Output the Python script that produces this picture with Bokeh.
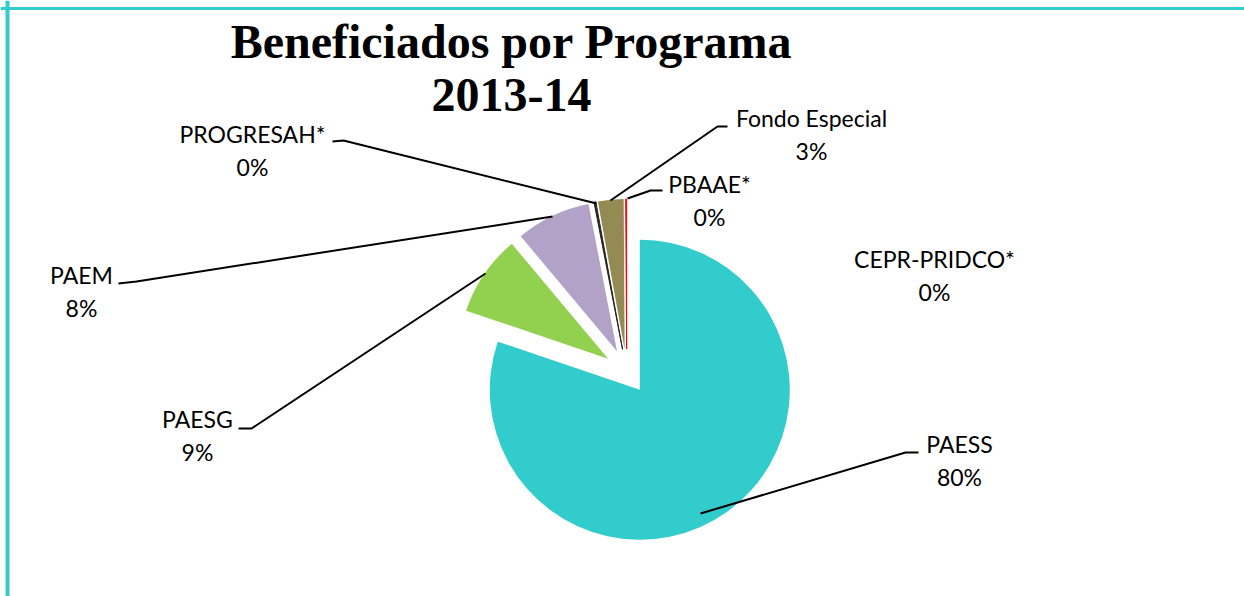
import numpy as np
from bokeh.plotting import figure
from bokeh.models import Range1d, ColumnDataSource, Span
from bokeh.core.properties import value
from bokeh.embed import file_html
from bokeh.resources import INLINE

# ---- data ----
programas = ["PAESS", "PAESG", "PAEM", "PROGRESAH*", "Fondo Especial", "PBAAE*", "CEPR-PRIDCO*"]
porcentaje = [80.2, 8.7, 8.05, 0.2, 2.75, 0.1, 0.0]
colores = ["#33CCCC", "#92D050", "#B3A2C7", "#262626", "#948A54", "#FF0000", "#4BACC6"]

titulo = ["Beneficiados por Programa", "2013-14"]

W, H = 1244, 596
def X(px):
    return px
def Y(py):
    return H - py

p = figure(width=W, height=H, output_backend="svg", toolbar_location=None,
           x_range=Range1d(0, W), y_range=Range1d(0, H), min_border=0)
p.axis.visible = False
p.grid.visible = False
p.outline_line_color = None
p.background_fill_color = "white"

# pie layout
CX, CY = X(626.2), Y(371.0)
R = 150
EXPL = 22.5

vals = np.array(porcentaje, dtype=float)
tot = vals.sum()
cum = np.concatenate([[0], np.cumsum(vals)]) / tot * 360.0  # clockwise from 12 o'clock
t0, t1 = cum[:-1], cum[1:]
mid = np.radians((t0 + t1) / 2)
cx = CX + EXPL * np.sin(mid)
cy = CY + EXPL * np.cos(mid)
start = np.radians(90 - t1)
end = np.radians(90 - t0)
outline = {"PROGRESAH*": "#262626", "PBAAE*": "#FF0000"}
keep = vals > 0
src = ColumnDataSource(dict(
    x=cx[keep], y=cy[keep], s=start[keep], e=end[keep],
    c=[c for c, k in zip(colores, keep) if k],
    lc=[outline.get(n, "white") for n, k in zip(programas, keep) if k],
    lw=[1 if n in outline else 0 for n, k in zip(programas, keep) if k],
    la=[1.0 if n in outline else 0.0 for n, k in zip(programas, keep) if k]))
p.wedge(x="x", y="y", radius=R, start_angle="s", end_angle="e",
        fill_color="c", line_color="lc", line_width="lw", line_alpha="la", source=src)

# labels
pct = [f"{int(round(v / tot * 100))}%" for v in vals]
label_pos = {
    "PAESS": (959, 443),
    "PAESG": (197, 418),
    "PAEM": (81, 274),
    "PROGRESAH*": (252, 133),
    "Fondo Especial": (811, 117),
    "PBAAE*": (709, 183),
    "CEPR-PRIDCO*": (934, 258),
}
lx = [X(label_pos[n][0]) for n in programas]
ly1 = [Y(label_pos[n][1]) for n in programas]
ly2 = [Y(label_pos[n][1] + 33) for n in programas]
font = value("Lato")
p.text(x=lx, y=ly1, text=programas, text_font=font, text_font_size="23px",
       text_align="center", text_baseline="middle", text_color="black")
p.text(x=lx, y=ly2, text=pct, text_font=font, text_font_size="23px",
       text_align="center", text_baseline="middle", text_color="black")

# leader lines
leaders = [
    [(700, 513), (905, 452), (918, 452)],
    [(238, 428), (251, 428), (485, 273)],
    [(118, 283), (136, 281), (552, 216)],
    [(332, 141), (343, 140), (596, 203)],
    [(727, 126), (717, 126), (610, 200)],
    [(662, 190), (650, 190), (627, 198)],
]
p.multi_line(xs=[[X(a) for a, b in l] for l in leaders],
             ys=[[Y(b) for a, b in l] for l in leaders],
             line_color="black", line_width=2)

# title
p.text(x=[X(511), X(511)], y=[Y(41), Y(94)], text=titulo,
       text_font=value("Liberation Serif"), text_font_style="bold",
       text_font_size="48px", text_align="center", text_baseline="alphabetic",
       text_color="black")

# border (left and top)
p.add_layout(Span(location=X(7), dimension="height", line_color="#33CCCC", line_width=4))
p.add_layout(Span(location=Y(8), dimension="width", line_color="#33CCCC", line_width=3))

open("out.html", "w").write(file_html(p, INLINE))
